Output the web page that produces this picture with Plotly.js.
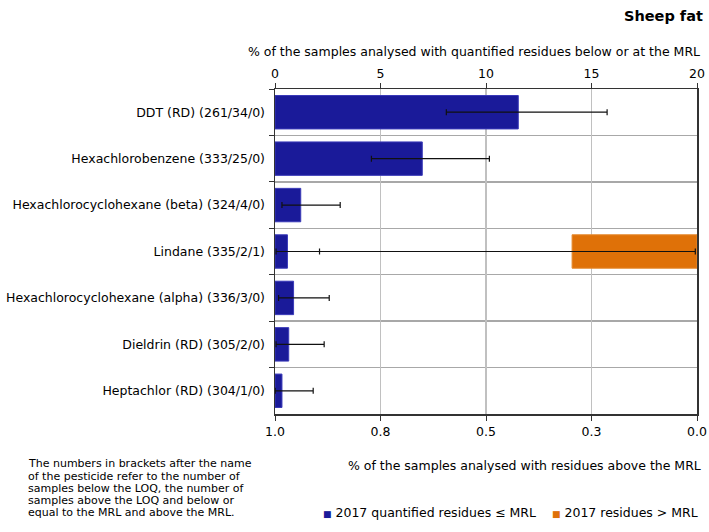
<!DOCTYPE html>
<html>
<head>
<meta charset="utf-8">
<script src="https://cdn.plot.ly/plotly-3.0.1.min.js"></script>
<style>html,body{margin:0;padding:0;background:#fff;}#chart{width:709px;height:532px;}</style>
</head>
<body>
<div id="chart"></div>
<script>
// ---- data ----
var pesticides = [
  "DDT (RD) (261/34/0)",
  "Hexachlorobenzene (333/25/0)",
  "Hexachlorocyclohexane (beta) (324/4/0)",
  "Lindane (335/2/1)",
  "Hexachlorocyclohexane (alpha) (336/3/0)",
  "Dieldrin (RD) (305/2/0)",
  "Heptachlor (RD) (304/1/0)"
];
// % quantified residues <= MRL (top axis)
var quantPct   = [11.53, 6.98, 1.22, 0.59, 0.88, 0.65, 0.33];
var quantLow   = [8.12, 4.57, 0.33, 0.05, 0.17, 0.05, 0.01];
var quantHigh  = [15.74, 10.16, 3.09, 2.11, 2.57, 2.33, 1.81];
// % residues > MRL (bottom axis, reversed)
var abovePct   = [null, null, null, 0.296, null, null, null];
var aboveLow   = [null, null, null, 0.004, null, null, null];
var aboveHigh  = [null, null, null, 0.998, null, null, null];
// series names
var seriesNames = ["2017 quantified residues \u2264 MRL", "2017 residues > MRL"];
var seriesColors = ["#1a1a99", "#df7108"];
// axis ticks
var topTicks = [0, 5, 10, 15, 20];
var bottomTickVals = [1, 0.75, 0.5, 0.25, 0];
var bottomTickText = ["1.0", "0.8", "0.5", "0.3", "0.0"];
// footnote lines
var noteLines = [
  "The numbers in brackets after the name",
  "of the pesticide refer to the number of",
  "samples below the LOQ, the number of",
  "samples above the LOQ and below or",
  "equal to the MRL and above the MRL."
];

var FONT = "Tahoma, 'DejaVu Sans', sans-serif";
var W = 709, H = 532, L = 275, R = 12, T = 89, B = 118;
var PW = W - L - R, PH = H - T - B;
function px(x) { return (x - L) / PW; }
function py(y) { return (H - B - y) / PH; }

function plusArr(v, hi) { return v.map(function (x, i) { return x == null ? null : hi[i] - x; }); }
function minusArr(v, lo) { return v.map(function (x, i) { return x == null ? null : x - lo[i]; }); }

var traceQuant = {
  type: "bar", orientation: "h",
  y: pesticides, x: quantPct,
  xaxis: "x2", yaxis: "y",
  name: seriesNames[0], showlegend: false,
  marker: { color: seriesColors[0], line: { color: "#3a3ab8", width: 1 } },
  error_x: { type: "data", symmetric: false, array: plusArr(quantPct, quantHigh),
             arrayminus: minusArr(quantPct, quantLow), color: "#111", thickness: 1.2, width: 3 }
};
var traceAbove = {
  type: "bar", orientation: "h",
  y: pesticides, x: abovePct,
  xaxis: "x", yaxis: "y",
  name: seriesNames[1], showlegend: false,
  marker: { color: seriesColors[1], line: { color: "#e58a30", width: 1 } },
  error_x: { type: "data", symmetric: false, array: plusArr(abovePct, aboveHigh),
             arrayminus: minusArr(abovePct, aboveLow), color: "#111", thickness: 1.2, width: 3 }
};

var annotations = [
  { text: "<b>Sheep fat</b>", xref: "paper", yref: "paper", x: px(705), y: py(16),
    xanchor: "right", yanchor: "middle", showarrow: false, font: { size: 14.5 } },
  { text: "% of the samples analysed with quantified residues below or at the MRL",
    xref: "paper", yref: "paper", x: px(702), y: py(51), xanchor: "right", yanchor: "middle",
    showarrow: false, font: { size: 12.5 } },
  { text: "% of the samples analysed with residues above the MRL",
    xref: "paper", yref: "paper", x: px(703), y: py(465), xanchor: "right", yanchor: "middle",
    showarrow: false, font: { size: 12.5 } }
];
// legend entries (small squares before the text, as in the reference)
var legendX = [321, 550];
seriesNames.forEach(function (n, i) {
  annotations.push({ text: "<span style='color:" + seriesColors[i] + ";font-size:9px'>\u25A0</span> " + n,
    xref: "paper", yref: "paper", x: px(legendX[i]), y: py(512), xanchor: "left", yanchor: "middle",
    showarrow: false, font: { size: 12.5 } });
});
noteLines.forEach(function (t, i) {
  annotations.push({ text: t, xref: "paper", yref: "paper", x: px(26), y: py(464 + 12 * i),
    xanchor: "left", yanchor: "middle", align: "left", showarrow: false, font: { size: 11 } });
});

var layout = {
  width: W, height: H,
  margin: { l: L, r: R, t: T, b: B, autoexpand: false },
  paper_bgcolor: "#fff", plot_bgcolor: "#fff",
  font: { family: FONT, size: 12, color: "#000" },
  barmode: "overlay", bargap: 0.28,
  showlegend: false,
  xaxis: {
    range: [1, 0], tickvals: bottomTickVals, ticktext: bottomTickText,
    showgrid: false, zeroline: false, showline: true, linecolor: "#333", linewidth: 1.5,
    ticks: "outside", ticklen: 5, tickcolor: "#333", tickfont: { size: 12.5 }
  },
  xaxis2: {
    overlaying: "x", side: "top", range: [0, 20], tickvals: topTicks,
    showgrid: true, gridcolor: "#c0c0c0", gridwidth: 1.5, zeroline: false,
    showline: true, linecolor: "#333", linewidth: 1.5,
    ticks: "outside", ticklen: 5, tickcolor: "#333", tickfont: { size: 12.5 }
  },
  yaxis: {
    type: "category", autorange: "reversed", tickson: "boundaries",
    showgrid: true, gridcolor: "#a8a8a8", gridwidth: 1.5,
    showline: true, linecolor: "#333", linewidth: 1.5, mirror: true,
    ticks: "outside", ticklen: 5, tickcolor: "#333",
    tickfont: { size: 12.5 }, ticklabelstandoff: 6
  },
  annotations: annotations
};

Plotly.newPlot("chart", [traceQuant, traceAbove], layout, { displayModeBar: false, staticPlot: true });
</script>
</body>
</html>
